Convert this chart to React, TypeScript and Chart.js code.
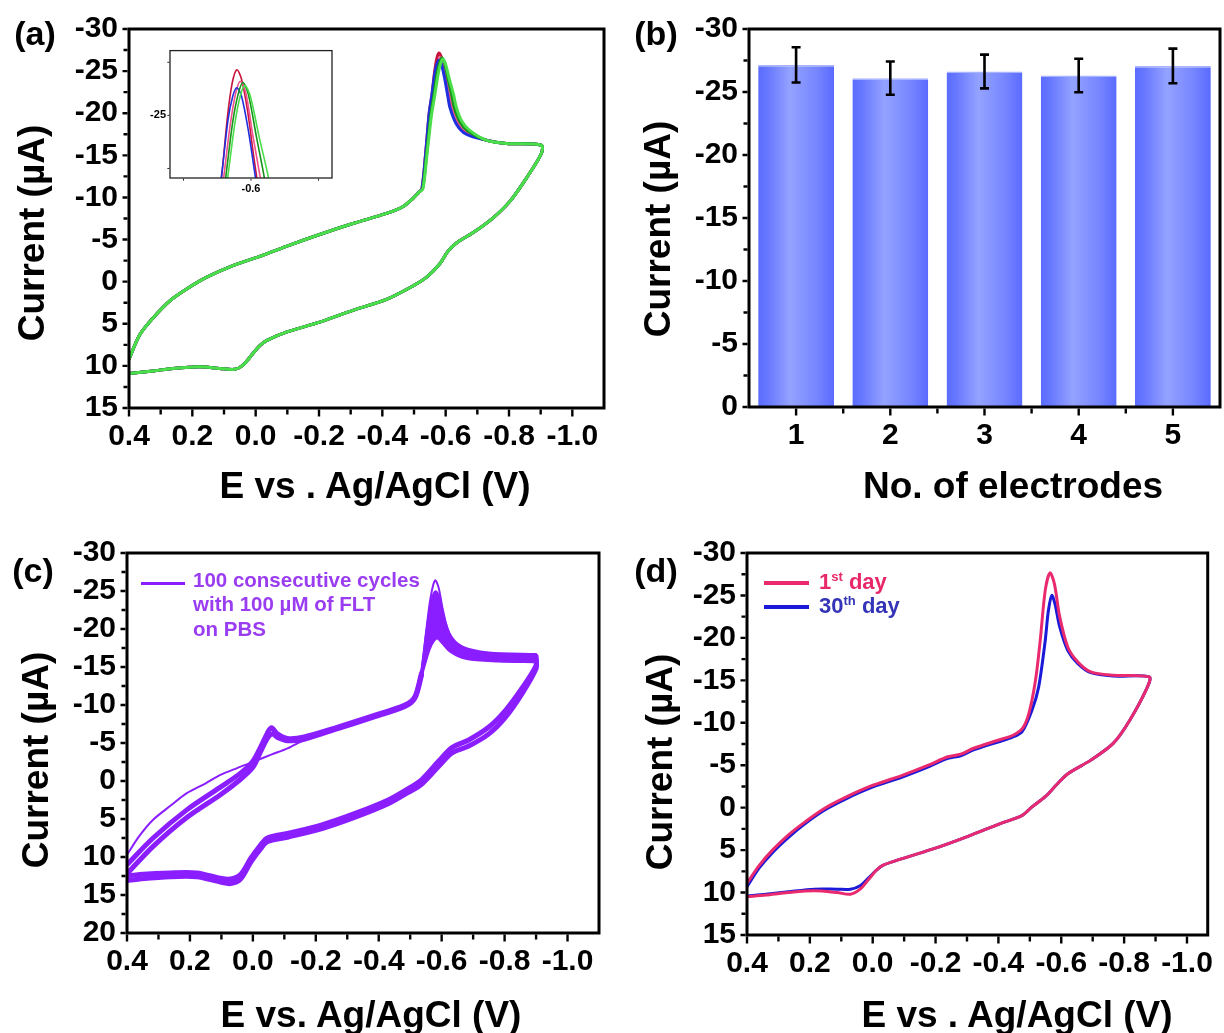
import React, { useEffect, useRef } from 'react';
import { Chart, registerables } from 'chart.js';

Chart.register(...registerables);
const FONT = "'Liberation Sans', Arial, Helvetica, sans-serif";
Chart.defaults.font.family = FONT;

type Pt = [number, number];

// ================= Panel (a): repeated CV runs =================
const aTickV = [0.4, 0.2, 0.0, -0.2, -0.4, -0.6, -0.8, -1.0];
const aTickVLabels = ['0.4', '0.2', '0.0', '-0.2', '-0.4', '-0.6', '-0.8', '-1.0'];
const aTickI = [-30, -25, -20, -15, -10, -5, 0, 5, 10, 15];
const aTickILabels = ['-30', '-25', '-20', '-15', '-10', '-5', '0', '5', '10', '15'];

const aForward: Pt[] = [
  [0.4, 9.2], [0.366, 6.3], [0.324, 4.3], [0.272, 2.3], [0.219, 0.9], [0.156, -0.5],
  [0.072, -1.9], [-0.013, -3.0], [-0.097, -4.2], [-0.202, -5.6], [-0.307, -6.9],
  [-0.413, -8.1], [-0.465, -8.9], [-0.497, -9.9], [-0.515, -10.6],
];
const aPeakRed: Pt[] = [
  [-0.525, -11.0], [-0.537, -15.3], [-0.548, -20.0], [-0.557, -22.3], [-0.565, -24.9],
  [-0.572, -26.5], [-0.579, -27.15], [-0.586, -26.7], [-0.595, -25.2], [-0.603, -23.3],
  [-0.608, -22.2], [-0.615, -20.8], [-0.634, -18.9], [-0.665, -17.75],
];
const aPeakPink: Pt[] = [
  [-0.525, -11.0], [-0.538, -15.2], [-0.55, -19.8], [-0.56, -22.2], [-0.569, -24.5],
  [-0.577, -26.0], [-0.584, -26.6], [-0.592, -26.1], [-0.603, -24.0], [-0.613, -22.2],
  [-0.62, -20.8], [-0.638, -19.0], [-0.665, -17.8],
];
const aPeakBlue: Pt[] = [
  [-0.525, -11.0], [-0.537, -15.3], [-0.548, -20.0], [-0.557, -22.3], [-0.566, -24.8],
  [-0.573, -25.9], [-0.579, -26.3], [-0.586, -25.9], [-0.596, -24.3], [-0.606, -22.2],
  [-0.614, -20.6], [-0.634, -18.7], [-0.665, -17.5],
];
const aPeakGreen: Pt[] = [
  [-0.527, -11.0], [-0.54, -15.2], [-0.553, -19.8], [-0.563, -22.2], [-0.573, -24.7],
  [-0.581, -26.0], [-0.588, -26.55], [-0.596, -26.0], [-0.608, -24.0], [-0.619, -22.2],
  [-0.627, -20.7], [-0.645, -19.0], [-0.67, -17.9],
];
const aPeakLightGreen: Pt[] = [
  [-0.528, -11.0], [-0.541, -15.1], [-0.555, -19.7], [-0.566, -22.2], [-0.576, -24.6],
  [-0.584, -25.9], [-0.591, -26.4], [-0.599, -25.9], [-0.612, -24.0], [-0.625, -22.2],
  [-0.633, -20.8], [-0.65, -19.1], [-0.675, -18.0],
];
const aTail: Pt[] = [[-0.728, -16.8], [-0.792, -16.4], [-0.902, -16.2]];
const aReturn: Pt[] = [
  [-0.902, -15.2], [-0.855, -12.3], [-0.802, -9.5], [-0.749, -7.55], [-0.686, -5.8],
  [-0.634, -4.6], [-0.607, -3.6], [-0.581, -2.1], [-0.539, -0.5], [-0.497, 0.5],
  [-0.413, 2.1], [-0.307, 3.4], [-0.202, 4.8], [-0.097, 6.0], [-0.034, 7.0],
  [-0.013, 7.6], [0.008, 8.5], [0.04, 9.9], [0.066, 10.4], [0.114, 10.3],
  [0.177, 10.1], [0.261, 10.3], [0.324, 10.6], [0.4, 10.9],
];
const aRunNames = ['Run 5', 'Run 4', 'Run 3', 'Run 2', 'Run 1'];
const aRunColors = ['#4ade4a', '#14921a', '#1f2fe0', '#f0508c', '#c8143c'];
const aRunPeaks = [aPeakLightGreen, aPeakGreen, aPeakBlue, aPeakPink, aPeakRed];

// inset
const insetTickV = [-0.5, -0.6, -0.7];
const insetTickVLabels = ['', '-0.6', ''];
const insetTickI = [-27.5, -25, -22.5];
const insetTickILabels = ['', '-25', ''];

// ================= Panel (b): electrode reproducibility =================
const electrodes = ['1', '2', '3', '4', '5'];
const peakCurrent = [-27.15, -26.1, -26.63, -26.31, -27.07];
const peakError = [1.4, 1.32, 1.34, 1.33, 1.37];
const bTickI = [-30, -25, -20, -15, -10, -5, 0];
const bTickILabels = ['-30', '-25', '-20', '-15', '-10', '-5', '0'];

// ================= Panel (c): 100 consecutive cycles =================
const cTickI = [-30, -25, -20, -15, -10, -5, 0, 5, 10, 15, 20];
const cTickILabels = ['-30', '-25', '-20', '-15', '-10', '-5', '0', '5', '10', '15', '20'];
const cFirstForward: Pt[] = [
  [0.4, 9.7], [0.36, 7.2], [0.317, 5.1], [0.26, 3.2], [0.21, 1.6], [0.15, 0.3],
  [0.103, -0.8], [0.05, -1.7], [-0.003, -2.55], [-0.06, -3.5], [-0.11, -4.3],
  [-0.163, -5.4], [-0.21, -6.1], [-0.27, -7.1],
];
const cForwardEarly: Pt[] = [
  [0.4, 11.0], [0.317, 7.5], [0.21, 3.8], [0.103, 0.8], [0.04, -1.0], [0.0, -2.6],
  [-0.025, -4.5], [-0.046, -6.3], [-0.059, -7.0], [-0.078, -6.2], [-0.11, -5.6],
  [-0.163, -5.8], [-0.27, -7.1], [-0.376, -8.5], [-0.483, -10.0], [-0.515, -11.1], [-0.536, -14.2],
];
const cForwardLate: Pt[] = [
  [0.4, 12.2], [0.317, 8.6], [0.21, 4.8], [0.103, 1.8], [0.04, -0.2], [0.0, -1.8],
  [-0.025, -3.9], [-0.046, -5.6], [-0.062, -6.2], [-0.08, -5.7], [-0.11, -5.3],
  [-0.163, -5.5], [-0.27, -6.9], [-0.376, -8.3], [-0.483, -9.8], [-0.515, -10.9], [-0.536, -13.9],
];
const cPeakFirst: Pt[] = [
  [-0.515, -11.1], [-0.536, -14.5], [-0.55, -19.5], [-0.565, -24.2], [-0.579, -26.4],
  [-0.59, -25.5], [-0.605, -22.3], [-0.625, -19.4], [-0.665, -17.7], [-0.75, -16.9], [-0.9, -16.7],
];
const cPeakEarly: Pt[] = [
  [-0.536, -14.2], [-0.552, -19.3], [-0.568, -23.6], [-0.581, -24.9], [-0.593, -23.9],
  [-0.61, -20.9], [-0.635, -18.5], [-0.68, -17.2], [-0.78, -16.6], [-0.9, -16.5],
];
const cPeakMid1: Pt[] = [
  [-0.536, -14.1], [-0.555, -19.0], [-0.57, -22.3], [-0.583, -23.2], [-0.596, -22.2],
  [-0.615, -19.8], [-0.64, -18.0], [-0.69, -16.9], [-0.79, -16.4], [-0.9, -16.3],
];
const cPeakMid2: Pt[] = [
  [-0.536, -14.0], [-0.557, -18.5], [-0.572, -20.5], [-0.585, -21.0], [-0.598, -20.2],
  [-0.62, -18.6], [-0.65, -17.3], [-0.7, -16.5], [-0.8, -16.1], [-0.9, -16.0],
];
const cPeakLate: Pt[] = [
  [-0.536, -13.9], [-0.56, -17.3], [-0.575, -18.5], [-0.587, -18.8], [-0.6, -18.3],
  [-0.63, -17.0], [-0.68, -16.1], [-0.78, -15.8], [-0.9, -15.7],
];
const cReturnInner: Pt[] = [
  [-0.9, -16.4], [-0.9, -15.2], [-0.857, -12.3], [-0.803, -9.3], [-0.75, -7.1], [-0.686, -5.4],
  [-0.633, -4.4], [-0.59, -2.6], [-0.537, -0.2], [-0.494, 1.0], [-0.43, 2.5], [-0.323, 4.3],
  [-0.217, 5.8], [-0.11, 6.9], [-0.046, 7.5], [-0.025, 8.4], [0.007, 10.2], [0.039, 12.3],
  [0.071, 12.9], [0.103, 12.8], [0.178, 12.1], [0.263, 12.1], [0.36, 12.3], [0.4, 12.5],
];
const cReturnOuter: Pt[] = [
  [-0.9, -16.0], [-0.9, -14.8], [-0.857, -11.6], [-0.803, -8.4], [-0.75, -6.2], [-0.686, -4.6],
  [-0.633, -3.7], [-0.59, -1.9], [-0.537, 0.4], [-0.494, 1.5], [-0.43, 3.0], [-0.323, 4.8],
  [-0.217, 6.3], [-0.11, 7.4], [-0.046, 8.0], [-0.025, 8.9], [0.007, 10.7], [0.039, 12.9],
  [0.071, 13.5], [0.103, 13.3], [0.178, 12.6], [0.263, 12.6], [0.36, 12.9], [0.4, 13.1],
];

// ================= Panel (d): stability 1st vs 30th day =================
const dFirstForward: Pt[] = [
  [0.4, 8.9], [0.361, 6.8], [0.319, 5.0], [0.268, 3.2], [0.216, 1.7], [0.154, 0.1],
  [0.082, -1.3], [0.009, -2.5], [-0.094, -3.8], [-0.177, -5.0], [-0.239, -6.0],
  [-0.28, -6.3], [-0.321, -7.0], [-0.404, -8.0], [-0.445, -8.5], [-0.476, -9.3],
  [-0.497, -11.1], [-0.518, -15.0], [-0.533, -19.7], [-0.549, -25.6], [-0.564, -27.65],
  [-0.578, -26.4], [-0.595, -22.5], [-0.621, -18.9], [-0.652, -17.2], [-0.694, -16.0],
  [-0.766, -15.6], [-0.88, -15.4],
];
const dFirstReturn: Pt[] = [
  [-0.874, -14.2], [-0.818, -10.3], [-0.766, -7.6], [-0.694, -5.6], [-0.621, -4.0],
  [-0.585, -2.7], [-0.549, -1.3], [-0.507, -0.1], [-0.476, 0.9], [-0.404, 1.9],
  [-0.301, 3.4], [-0.197, 4.8], [-0.094, 6.0], [-0.032, 6.8], [-0.011, 7.4],
  [0.014, 8.5], [0.04, 9.6], [0.071, 10.2], [0.113, 10.0], [0.185, 9.8],
  [0.268, 10.0], [0.34, 10.3], [0.4, 10.5],
];
const dLastForward: Pt[] = [
  [0.4, 9.3], [0.361, 7.1], [0.319, 5.3], [0.268, 3.5], [0.216, 1.9], [0.154, 0.3],
  [0.082, -1.1], [0.009, -2.3], [-0.094, -3.6], [-0.177, -4.8], [-0.239, -5.8],
  [-0.28, -6.1], [-0.321, -6.8], [-0.404, -7.8], [-0.445, -8.3], [-0.476, -9.0],
  [-0.507, -11.5], [-0.528, -14.2], [-0.549, -19.7], [-0.559, -23.2], [-0.57, -25.0],
  [-0.58, -24.0], [-0.595, -21.3], [-0.621, -18.5], [-0.652, -17.0], [-0.694, -15.9],
  [-0.766, -15.5], [-0.88, -15.4],
];
const dLastReturn: Pt[] = [
  [-0.874, -14.2], [-0.818, -10.3], [-0.766, -7.6], [-0.694, -5.6], [-0.621, -4.0],
  [-0.585, -2.7], [-0.549, -1.3], [-0.507, -0.1], [-0.476, 0.9], [-0.404, 1.9],
  [-0.301, 3.4], [-0.197, 4.8], [-0.094, 6.0], [-0.032, 6.8], [-0.011, 7.4],
  [0.014, 8.3], [0.04, 9.2], [0.071, 9.6], [0.113, 9.6], [0.185, 9.6],
  [0.268, 9.9], [0.34, 10.2], [0.4, 10.4],
];

// ================= helpers =================
interface Box { left: number; top: number; width: number; height: number; L: number; T: number; R: number; B: number; }
const boxA: Box = { left: 0, top: 0, width: 612, height: 520, L: 129, T: 27, R: 604, B: 408 };
const boxInset: Box = { left: 140, top: 40, width: 200, height: 160, L: 170, T: 48, R: 332, B: 178 };
const boxB: Box = { left: 612, top: 0, width: 612, height: 520, L: 749, T: 27, R: 1220, B: 407 };
const boxC: Box = { left: 0, top: 520, width: 612, height: 513, L: 127, T: 553, R: 599, B: 933 };
const boxD: Box = { left: 612, top: 520, width: 612, height: 513, L: 747, T: 553, R: 1220, B: 935 };

function layoutFor(b: Box) {
  return {
    padding: { left: 0, top: b.T - b.top, right: b.left + b.width - b.R, bottom: 0 },
    yWidth: b.L - b.left,
    xHeight: b.top + b.height - b.B,
  };
}

const framePlugin: any = {
  id: 'frame',
  afterDraw(chart: any, _a: any, o: any) {
    const { ctx, chartArea: a } = chart;
    const xs = chart.scales.x, ys = chart.scales.y;
    const xv: number[] = xs.ticks.map((t: any) => t.value);
    const yv: number[] = ys.ticks.map((t: any) => t.value);
    const mid = (v: number[]) => v.slice(1).map((x, i) => (x + v[i]) / 2);
    const hw = o.width / 2;
    ctx.save();
    ctx.strokeStyle = o.color;
    ctx.lineWidth = o.tickWidth;
    ctx.beginPath();
    const xt = (vals: number[], len: number) => {
      if (!len) return;
      for (const v of vals) { const p = xs.getPixelForValue(v); ctx.moveTo(p, a.bottom + hw); ctx.lineTo(p, a.bottom + hw + len); }
    };
    const yt = (vals: number[], len: number) => {
      if (!len) return;
      for (const v of vals) { const p = ys.getPixelForValue(v); ctx.moveTo(a.left - hw, p); ctx.lineTo(a.left - hw - len, p); }
    };
    xt(xv, o.xMajor); xt(mid(xv), o.xMinor); yt(yv, o.yMajor); yt(mid(yv), o.yMinor);
    ctx.stroke();
    ctx.lineWidth = o.width;
    ctx.strokeRect(a.left, a.top, a.right - a.left, a.bottom - a.top);
    ctx.restore();
  },
};

const errorBarPlugin: any = {
  id: 'errorBars',
  afterDatasetsDraw(chart: any) {
    const xs = chart.scales.x, ys = chart.scales.y, ctx = chart.ctx;
    ctx.save();
    ctx.strokeStyle = '#000';
    ctx.lineWidth = 2.6;
    peakCurrent.forEach((v, i) => {
      const e = peakError[i];
      const x = xs.getPixelForValue(i);
      const y1 = ys.getPixelForValue(v - e), y2 = ys.getPixelForValue(v + e);
      ctx.beginPath();
      ctx.moveTo(x, y1); ctx.lineTo(x, y2);
      ctx.moveTo(x - 4.5, y1); ctx.lineTo(x + 4.5, y1);
      ctx.moveTo(x - 4.5, y2); ctx.lineTo(x + 4.5, y2);
      ctx.stroke();
    });
    ctx.restore();
  },
};

function linScale(min: number, max: number, ticks: number[], labels: string[], size: number, padding: number, fitProp: string, fitVal: number) {
  return {
    type: 'linear', min, max, reverse: true,
    grid: { display: false, drawTicks: false }, border: { display: false },
    afterBuildTicks: (s: any) => { s.ticks = ticks.map((v) => ({ value: v })); },
    afterFit: (s: any) => { s[fitProp] = fitVal; },
    ticks: {
      autoSkip: false, maxRotation: 0, minRotation: 0, padding, color: '#000',
      font: { size, weight: 'bold' },
      callback: (_v: any, i: number) => labels[i],
    },
  };
}

const toXY = (pts: Pt[]) => pts.map(([x, y]) => ({ x, y }));
const line = (label: string, pts: Pt[], color: string, width: number, extra: any = {}) => ({
  label, data: toXY(pts), borderColor: color, backgroundColor: color, borderWidth: width,
  pointRadius: 0, fill: false, tension: 0.3, borderCapStyle: 'round', borderJoinStyle: 'round', ...extra,
});

function cvConfig(b: Box, datasets: any[], xMin: number, xMax: number, xTicks: number[], xLabels: string[],
  yMin: number, yMax: number, yTicks: number[], yLabels: string[], size: number, pad: number, frame: any) {
  const lay = layoutFor(b);
  return {
    type: 'line',
    data: { datasets },
    options: {
      responsive: false, animation: false, devicePixelRatio: 1, events: [],
      layout: { padding: lay.padding },
      plugins: { legend: { display: false }, tooltip: { enabled: false }, frame },
      scales: {
        x: linScale(xMin, xMax, xTicks, xLabels, size, pad, 'height', lay.xHeight),
        y: linScale(yMin, yMax, yTicks, yLabels, size, pad, 'width', lay.yWidth),
      },
    },
    plugins: [framePlugin],
  };
}

const mainFrame = { width: 3, tickWidth: 2.4, xMajor: 7, xMinor: 5, yMajor: 5, yMinor: 4, color: '#000' };

const aDatasets = (w: number) => aRunNames.map((n, k) =>
  line(n, [...aForward, ...aRunPeaks[k], ...aTail, ...aReturn], aRunColors[k], w));

function buildA() {
  return cvConfig(boxA, aDatasets(3), -1.1, 0.4, aTickV, aTickVLabels, -30, 15, aTickI, aTickILabels, 30, 11, mainFrame);
}
function buildInset() {
  return cvConfig(boxInset, aDatasets(1.6), -0.72, -0.48, insetTickV, insetTickVLabels, -28.05, -22.05,
    insetTickI, insetTickILabels, 11, 4,
    { width: 1.3, tickWidth: 1, xMajor: 2, xMinor: 0, yMajor: 2, yMinor: 0, color: '#222' });
}
const PURPLE = '#8a1eff';
function buildC() {
  const ds = [
    line('Cycle 1', cFirstForward, PURPLE, 2),
    line('Cycles (early)', cForwardEarly, PURPLE, 5),
    line('Cycles (late)', cForwardLate, PURPLE, 5),
    line('Cycle 1 peak', cPeakFirst, PURPLE, 2),
    line('Peak early', cPeakEarly, PURPLE, 3),
    line('Peak mid 1', cPeakMid1, PURPLE, 3),
    line('Peak mid 2', cPeakMid2, PURPLE, 3),
    line('Peak late', cPeakLate, PURPLE, 3, { fill: 4, backgroundColor: PURPLE }),
    line('Return inner', cReturnInner, PURPLE, 5),
    line('Return outer', cReturnOuter, PURPLE, 5),
  ];
  return cvConfig(boxC, ds, -1.1, 0.4, aTickV, aTickVLabels, -30, 20, cTickI, cTickILabels, 30, 11, mainFrame);
}
function buildD() {
  const ds = [
    line('1st day', [...dFirstForward, ...dFirstReturn], '#ea2a6e', 3),
    line('30th day', [...dLastForward, ...dLastReturn], '#1a1ad8', 3),
  ];
  return cvConfig(boxD, ds, -1.066, 0.4, aTickV, aTickVLabels, -30, 15, aTickI, aTickILabels, 30, 11, mainFrame);
}
function buildB() {
  const lay = layoutFor(boxB);
  return {
    type: 'bar',
    data: {
      labels: electrodes,
      datasets: [{
        label: 'Peak current',
        data: peakCurrent,
        barPercentage: 0.805, categoryPercentage: 1,
        borderColor: '#a8b4ff', borderWidth: { top: 1.5, left: 0, right: 0, bottom: 0 }, borderSkipped: false,
        backgroundColor: (c: any) => {
          const chart = c.chart; const xs = chart.scales.x;
          if (!chart.chartArea || !xs || c.dataIndex === undefined) return '#7586ff';
          const cx = xs.getPixelForValue(c.dataIndex);
          const half = (xs.width / electrodes.length) * 0.805 / 2;
          const g = chart.ctx.createLinearGradient(cx - half, 0, cx + half, 0);
          g.addColorStop(0, '#5b6cff');
          g.addColorStop(0.12, '#6677ff');
          g.addColorStop(0.42, '#94a2ff');
          g.addColorStop(0.78, '#7585ff');
          g.addColorStop(1, '#5a6aff');
          return g;
        },
      }],
    },
    options: {
      responsive: false, animation: false, devicePixelRatio: 1, events: [],
      layout: { padding: lay.padding },
      plugins: { legend: { display: false }, tooltip: { enabled: false }, frame: mainFrame },
      scales: {
        x: {
          type: 'category', grid: { display: false, drawTicks: false }, border: { display: false },
          afterFit: (s: any) => { s.height = lay.xHeight; },
          ticks: { padding: 11, color: '#000', font: { size: 30, weight: 'bold' }, maxRotation: 0, autoSkip: false },
        },
        y: linScale(-30, 0, bTickI, bTickILabels, 30, 11, 'width', lay.yWidth),
      },
    },
    plugins: [errorBarPlugin, framePlugin],
  };
}

function ChartBox({ box, build }: { box: Box; build: () => any }) {
  const ref = useRef<HTMLCanvasElement>(null);
  useEffect(() => {
    const chart = new Chart(ref.current as HTMLCanvasElement, build());
    return () => chart.destroy();
  }, []);
  return (
    <canvas ref={ref} width={box.width} height={box.height}
      style={{ position: 'absolute', left: box.left, top: box.top, width: box.width, height: box.height }} />
  );
}

function Txt({ x, y, size, rotate, color = '#000', children }: any) {
  return (
    <div style={{
      position: 'absolute', left: x, top: y, transform: `translate(-50%, -50%)${rotate ? ' rotate(-90deg)' : ''}`,
      whiteSpace: 'nowrap', fontFamily: FONT, fontWeight: 'bold', fontSize: size, lineHeight: 1, color,
    }}>{children}</div>
  );
}

export default function App() {
  const legendText: any = { position: 'absolute', fontFamily: FONT, fontWeight: 'bold', whiteSpace: 'nowrap' };
  return (
    <div style={{ position: 'absolute', left: 0, top: 0, width: 1224, height: 1033, background: '#fff', overflow: 'hidden' }}>
      <ChartBox box={boxA} build={buildA} />
      <ChartBox box={boxInset} build={buildInset} />
      <ChartBox box={boxB} build={buildB} />
      <ChartBox box={boxC} build={buildC} />
      <ChartBox box={boxD} build={buildD} />

      <Txt x={35} y={33} size={34}>(a)</Txt>
      <Txt x={656} y={33} size={34}>(b)</Txt>
      <Txt x={33} y={570} size={34}>(c)</Txt>
      <Txt x={656} y={570} size={34}>(d)</Txt>

      <Txt x={31} y={233} size={37} rotate>Current (µA)</Txt>
      <Txt x={657} y={229} size={37} rotate>Current (µA)</Txt>
      <Txt x={35} y={760} size={37} rotate>Current (µA)</Txt>
      <Txt x={659} y={762} size={37} rotate>Current (µA)</Txt>

      <Txt x={375} y={485} size={37}>E vs . Ag/AgCl (V)</Txt>
      <Txt x={1013} y={485} size={37}>No. of electrodes</Txt>
      <Txt x={371} y={1014} size={37}>E vs. Ag/AgCl (V)</Txt>
      <Txt x={1017} y={1014} size={37}>E vs . Ag/AgCl (V)</Txt>

      {/* legend (c) */}
      <div style={{ position: 'absolute', left: 141, top: 581.5, width: 44, height: 3, background: PURPLE }} />
      <div style={{ ...legendText, left: 193, top: 567.75, fontSize: 20.5, lineHeight: '24.5px', color: '#9a3cf0' }}>
        100 consecutive cycles<br />with 100 µM of FLT<br />on PBS
      </div>

      {/* legend (d) */}
      <div style={{ position: 'absolute', left: 764, top: 581, width: 45, height: 3.5, background: '#ea2a6e' }} />
      <div style={{ position: 'absolute', left: 764, top: 605, width: 45, height: 3.5, background: '#1a1ad8' }} />
      <div style={{ ...legendText, left: 819, top: 570, fontSize: 22, lineHeight: '24px', color: '#e8286a' }}>
        1<sup style={{ fontSize: 13, verticalAlign: 'top', lineHeight: '14px' }}>st</sup> day
      </div>
      <div style={{ ...legendText, left: 819, top: 594, fontSize: 22, lineHeight: '24px', color: '#3434b8' }}>
        30<sup style={{ fontSize: 13, verticalAlign: 'top', lineHeight: '14px' }}>th</sup> day
      </div>
    </div>
  );
}
